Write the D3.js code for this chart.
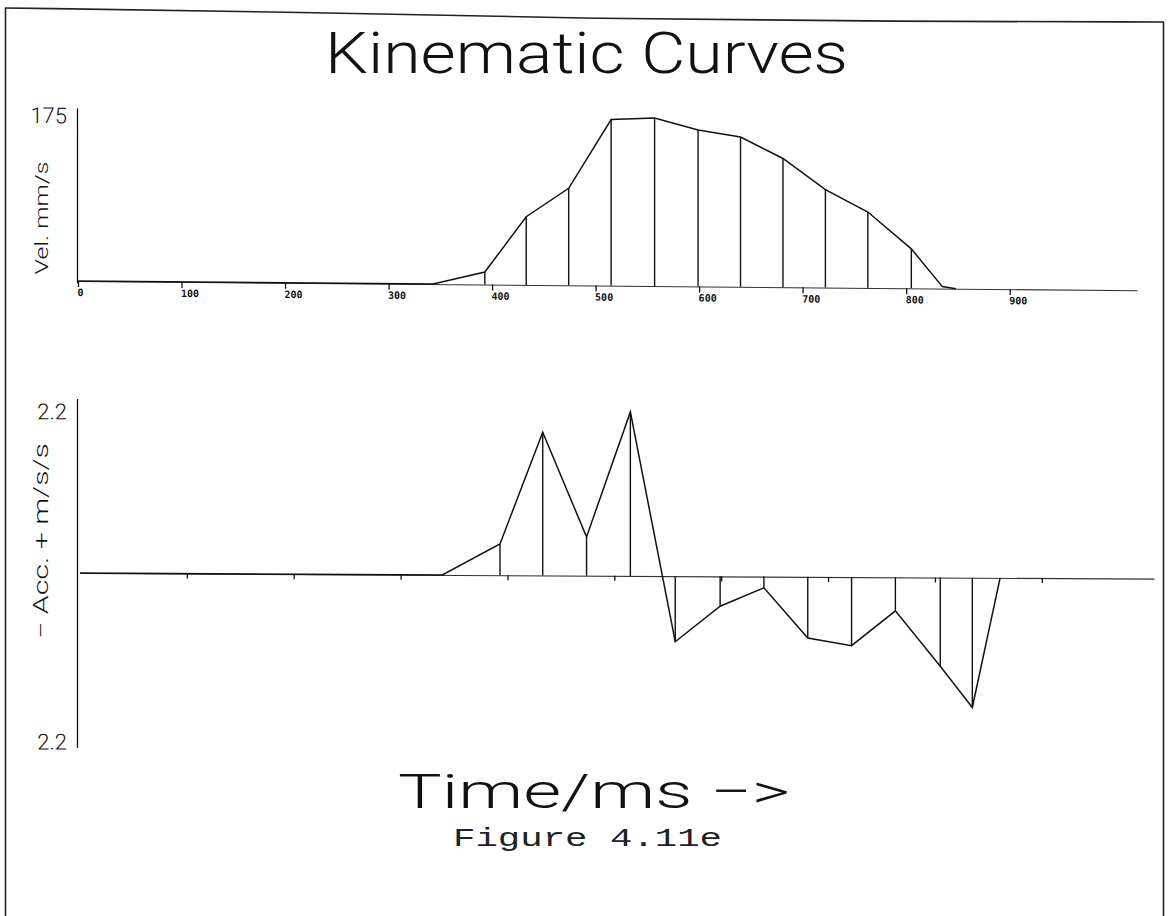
<!DOCTYPE html>
<html>
<head>
<meta charset="utf-8">
<title>Kinematic Curves</title>
<script src="https://cdn.jsdelivr.net/npm/d3@7/dist/d3.min.js"></script>
<style>
  html, body { margin: 0; padding: 0; background: #fff; }
  svg { display: block; }
  .plot-text { font-family: "Roboto", "Liberation Sans", sans-serif; font-weight: 300; fill: #111; }
  .tick-lbl { font-family: "DejaVu Sans Mono", monospace; font-weight: bold; font-size: 10px; fill: #111; }
</style>
</head>
<body>
<svg id="fig" width="1170" height="916"></svg>
<script>
// Time axis (ms)
const timeTicks = [0, 100, 200, 300, 400, 500, 600, 700, 800, 900];

// Velocity trace (mm/s)
const velTimes  = [0, 343, 393, 433, 474, 515, 557, 599, 640, 681, 722, 763, 805, 835, 848];
const velValues = [0, 0, 13, 71, 101, 173, 175, 163, 156, 134, 102, 79, 41, 2, 0];

// Acceleration trace (m/s/s)
const accTimes  = [0, 339, 393, 433, 474, 515, 557, 599, 640, 681, 722, 763, 805, 835, 861];
const accValues = [0, 0, 0.42, 1.92, 0.52, 2.2, -0.88, -0.40, -0.15, -0.82, -0.92, -0.45, -1.19, -1.74, 0];

// Axis end labels
const velTickValues = [175];
const accTickValues = [2.2, -2.2];

const svg = d3.select("#fig");

// Page frame
const frameTop = d3.line().curve(d3.curveBasis)([[5, 8], [300, 12], [600, 19], [900, 21.5], [1164, 22]]);
svg.append("path").attr("d", frameTop).attr("fill", "none").attr("stroke", "#222").attr("stroke-width", 1.6);
svg.append("line").attr("x1", 5.5).attr("y1", 8).attr("x2", 5.5).attr("y2", 916).attr("stroke", "#222").attr("stroke-width", 1.6);
svg.append("line").attr("x1", 1163.5).attr("y1", 22).attr("x2", 1163.5).attr("y2", 916).attr("stroke", "#222").attr("stroke-width", 1.6);

// Titles
svg.append("text").attr("class", "plot-text")
  .attr("x", 325).attr("y", 73).attr("font-size", 57)
  .attr("textLength", 523).attr("lengthAdjust", "spacingAndGlyphs")
  .text("Kinematic Curves");

svg.append("text").attr("class", "plot-text")
  .attr("x", 398).attr("y", 808).attr("font-size", 48)
  .attr("textLength", 392).attr("lengthAdjust", "spacingAndGlyphs")
  .text("Time/ms \u2212>");

svg.append("text")
  .attr("x", 453).attr("y", 846).attr("font-size", 26)
  .attr("font-family", "'Liberation Mono', 'DejaVu Sans Mono', monospace")
  .attr("fill", "#222")
  .attr("textLength", 269).attr("lengthAdjust", "spacingAndGlyphs")
  .text("Figure 4.11e");

// ---------- Velocity panel ----------
const gV = svg.append("g").attr("transform", "skewY(0.5)");
const xV = d3.scaleLinear().domain([0, 1023]).range([78, 1137]);
const yV = d3.scaleLinear().domain([0, 175]).range([280.3, 112.3]);

// y axis: plain line with the top value label
const yVaxisScale = d3.scaleLinear().domain([yV.invert(282), yV.invert(107)]).range([282, 107]);
gV.append("g").attr("transform", `translate(${xV(0) - 1},0)`)
  .call(d3.axisLeft(yVaxisScale).tickValues(velTickValues).tickSize(0).tickPadding(10).tickSizeOuter(0))
  .call(g => g.select(".domain").attr("stroke", "#111").attr("stroke-width", 1.3))
  .call(g => g.selectAll("text").attr("class", "plot-text").attr("font-size", 22)
    .attr("dy", "0.45em"));

// x axis with small ticks and labels starting at each tick
gV.append("g").attr("transform", `translate(0,${yV(0)})`)
  .call(d3.axisBottom(xV).tickValues(timeTicks).tickSize(6).tickSizeOuter(0).tickFormat(d3.format("d")))
  .call(g => g.select(".domain").attr("stroke", "#333").attr("stroke-width", 1.1))
  .call(g => g.selectAll(".tick line").attr("stroke", "#111").attr("stroke-width", 1.3))
  .call(g => g.selectAll(".tick text").attr("class", "tick-lbl")
    .attr("text-anchor", "start").attr("x", -1).attr("y", 8).attr("dy", "0.71em"));

const velPts = velTimes.map((t, i) => ({ t, v: velValues[i] }));

gV.append("g").selectAll("line")
  .data(velPts.filter(d => d.v > 3))
  .join("line")
  .attr("x1", d => xV(d.t)).attr("x2", d => xV(d.t))
  .attr("y1", yV(0)).attr("y2", d => yV(d.v))
  .attr("stroke", "#111").attr("stroke-width", 1.4);

gV.append("path")
  .attr("d", d3.line().x(d => xV(d.t)).y(d => yV(d.v))(velPts))
  .attr("fill", "none").attr("stroke", "#111").attr("stroke-width", 1.5);

svg.append("text").attr("class", "plot-text")
  .attr("transform", "translate(48,218) rotate(-90)")
  .attr("text-anchor", "middle").attr("font-size", 19)
  .attr("textLength", 113).attr("lengthAdjust", "spacingAndGlyphs")
  .text("Vel. mm/s");

// ---------- Acceleration panel ----------
const gA = svg.append("g").attr("transform", "skewY(0.3)");
const xA = d3.scaleLinear().domain([0, 1005]).range([80, 1154]);
const yA = d3.scaleLinear().domain([-2.2, 2.2]).range([736.6, 408.6]);

const yAaxisScale = d3.scaleLinear().domain([yA.invert(747), yA.invert(398)]).range([747, 398]);
gA.append("g").attr("transform", `translate(77,0)`)
  .call(d3.axisLeft(yAaxisScale).tickValues(accTickValues).tickSize(0).tickPadding(10).tickSizeOuter(0)
    .tickFormat(d => d3.format(".1f")(Math.abs(d))))
  .call(g => g.select(".domain").attr("stroke", "#111").attr("stroke-width", 1.3))
  .call(g => g.selectAll("text").attr("class", "plot-text").attr("font-size", 22)
    .attr("dy", (d, i) => i === 0 ? "0.45em" : "0.55em"));

gA.append("g").attr("transform", `translate(0,${yA(0)})`)
  .call(d3.axisBottom(xA).tickValues(timeTicks.filter(t => t > 0)).tickSize(5).tickSizeOuter(0).tickFormat(""))
  .call(g => g.select(".domain").attr("stroke", "#333").attr("stroke-width", 1.1))
  .call(g => g.selectAll(".tick line").attr("stroke", "#111").attr("stroke-width", 1.3));

const accPts = accTimes.map((t, i) => ({ t, a: accValues[i] }));

gA.append("g").selectAll("line")
  .data(accPts.filter(d => d.a !== 0))
  .join("line")
  .attr("x1", d => xA(d.t)).attr("x2", d => xA(d.t))
  .attr("y1", yA(0)).attr("y2", d => yA(d.a))
  .attr("stroke", "#111").attr("stroke-width", 1.4);

gA.append("path")
  .attr("d", d3.line().x(d => xA(d.t)).y(d => yA(d.a))(accPts))
  .attr("fill", "none").attr("stroke", "#111").attr("stroke-width", 1.5);

svg.append("text").attr("class", "plot-text")
  .attr("transform", "translate(48,541) rotate(-90)")
  .attr("text-anchor", "middle").attr("font-size", 20)
  .attr("textLength", 196).attr("lengthAdjust", "spacingAndGlyphs")
  .text("\u2212  Acc. + m/s/s");
</script>
</body>
</html>
